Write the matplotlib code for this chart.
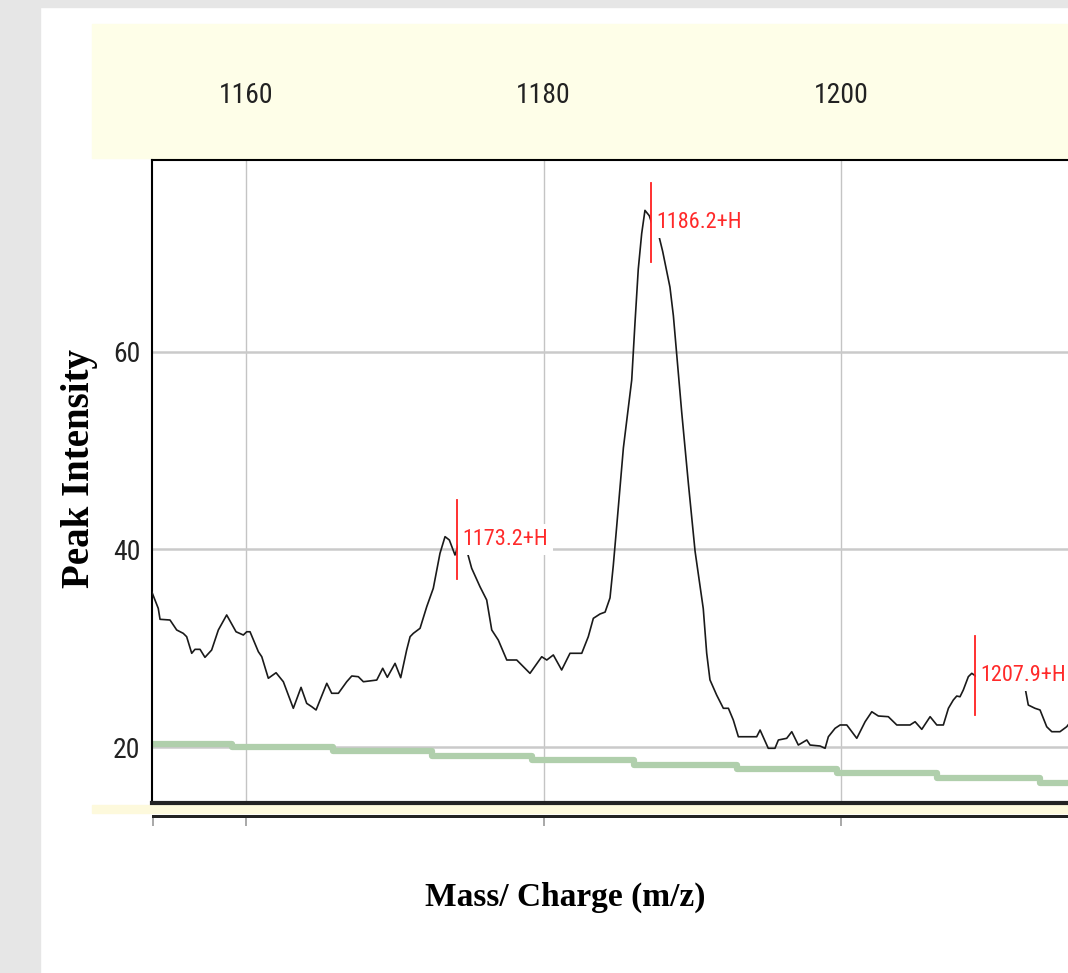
import matplotlib.pyplot as plt
from matplotlib.patches import Rectangle

# spectrum trace (m/z, intensity)
mz = [1153.66, 1154.10, 1154.22, 1154.89, 1155.34, 1155.78, 1156.01, 1156.35, 1156.57, 1156.91,
      1157.24, 1157.69, 1158.14, 1158.70, 1159.33, 1159.82, 1160.05, 1160.27, 1160.83, 1161.06,
      1161.50, 1162.02, 1162.51, 1163.18, 1163.70, 1164.08, 1164.42, 1164.71, 1165.43, 1165.76,
      1166.21, 1166.77, 1167.11, 1167.55, 1167.89, 1168.79, 1169.19, 1169.50, 1170.02, 1170.40,
      1170.80, 1171.03, 1171.25, 1171.70, 1172.15, 1172.59, 1173.04, 1173.38, 1173.67, 1174.05,
      1174.39, 1174.79, 1175.17, 1175.73, 1176.18, 1176.52, 1176.96, 1177.53, 1178.20, 1179.09,
      1179.88, 1180.22, 1180.66, 1181.22, 1181.78, 1182.57, 1183.01, 1183.35, 1183.80, 1184.14,
      1184.47, 1184.69, 1184.92, 1185.37, 1185.93, 1186.15, 1186.37, 1186.60, 1186.82, 1187.11,
      1187.27, 1187.50, 1187.75, 1188.01, 1188.50, 1188.73, 1188.96, 1189.29, 1189.74, 1190.19,
      1190.74, 1190.97, 1191.19, 1191.64, 1192.09, 1192.43, 1192.76, 1193.10, 1194.33, 1194.56,
      1195.11, 1195.56, 1195.79, 1196.35, 1196.69, 1197.13, 1197.70, 1197.92, 1198.59, 1198.93,
      1199.15, 1199.60, 1199.94, 1200.39, 1201.06, 1201.62, 1202.07, 1202.51, 1203.18, 1203.75,
      1204.64, 1204.98, 1205.43, 1205.99, 1206.44, 1206.88, 1207.22, 1207.55, 1207.78, 1208.00,
      1208.22, 1208.56, 1208.79, 1209.12, 1209.46, 1210.60, 1211.80, 1212.35, 1212.59, 1213.04,
      1213.38, 1213.83, 1214.17, 1214.72, 1215.17, 1215.30]
intensity = [35.73, 34.04, 32.93, 32.86, 31.85, 31.51, 31.17, 29.49, 29.89, 29.89,
             29.08, 29.82, 31.85, 33.37, 31.67, 31.34, 31.67, 31.67, 29.65, 29.14,
             26.96, 27.52, 26.61, 23.92, 26.04, 24.42, 24.08, 23.75, 26.45, 25.44,
             25.44, 26.61, 27.19, 27.12, 26.61, 26.78, 27.97, 27.06, 28.47, 27.02,
             29.82, 31.17, 31.51, 32.02, 34.21, 36.07, 39.61, 41.30, 40.96, 39.44,
             40.96, 40.20, 38.10, 36.23, 34.89, 31.85, 30.83, 28.81, 28.81, 27.46,
             29.14, 28.81, 29.32, 27.80, 29.49, 29.49, 31.17, 33.03, 33.47, 33.66,
             35.10, 38.36, 42.34, 50.29, 57.16, 62.95, 68.38, 71.99, 74.34, 73.80,
             73.07, 73.07, 71.80, 70.19, 66.57, 63.68, 59.70, 53.91, 46.67, 39.81,
             34.01, 29.50, 26.80, 25.26, 23.92, 23.92, 22.73, 21.04, 21.04, 21.72,
             19.87, 19.87, 20.71, 20.88, 21.55, 20.20, 20.71, 20.20, 20.10, 19.87,
             21.04, 21.89, 22.23, 22.23, 20.88, 22.56, 23.57, 23.14, 23.07, 22.23,
             22.23, 22.56, 21.79, 23.07, 22.23, 22.23, 23.92, 24.76, 25.16, 25.09,
             25.77, 27.12, 27.46, 27.12, 27.12, 26.90, 26.60, 26.20, 24.25, 23.92,
             23.75, 22.05, 21.55, 21.55, 22.05, 22.30]

# green noise baseline (step start positions and levels)
base_mz = [1153.68, 1159.06, 1165.85, 1172.50, 1179.23, 1186.09, 1193.01, 1199.73, 1206.46, 1213.38, 1215.30]
base_val = [20.3, 20.0, 19.55, 19.1, 18.65, 18.2, 17.8, 17.4, 16.9, 16.4, 16.4]

# labelled peaks
peak_labels = ['1173.2+H', '1186.2+H', '1207.9+H']
peak_mz = [1174.2, 1187.2, 1209.0]
peak_int = [41.0, 73.1, 27.2]

xticks = [1160, 1180, 1200]
yticks = [20, 40, 60]

W, H = 1068, 973
fig = plt.figure(figsize=(W / 100, H / 100), dpi=100)
fig.patch.set_facecolor('white')

# page background pieces
fig.add_artist(Rectangle((0, 0), 40 / W, 1, transform=fig.transFigure, color='#e6e6e6', zorder=0))
fig.add_artist(Rectangle((0, 1 - 7 / H), 1, 7 / H, transform=fig.transFigure, color='#e6e6e6', zorder=0))
fig.add_artist(Rectangle((92 / W, 1 - 158 / H), (W - 92) / W, 134 / H, transform=fig.transFigure,
                         color='#fefee8', zorder=0))
fig.add_artist(Rectangle((92 / W, 1 - 813 / H), (W - 92) / W, 8 / H, transform=fig.transFigure,
                         color='#fdf9dc', zorder=0))

narrow = ['Roboto Condensed', 'Liberation Sans Narrow', 'Liberation Sans', 'DejaVu Sans']
serif = ['Liberation Serif', 'DejaVu Serif']

ax = fig.add_axes([152 / W, 1 - 803 / H, (W - 152) / W, 643 / H])
ax.set_xlim(1153.68, 1215.26)
ax.set_ylim(14.33, 79.44)

ax.plot(mz, intensity, color='#1a1a1a', lw=1.2, zorder=3)
ax.step(base_mz, base_val, where='post', color='#b0cfac', lw=4.5, zorder=2)

for lab, m, v in zip(peak_labels, peak_mz, peak_int):
    ax.annotate(lab, xy=(m, v), xytext=(4, 0), textcoords='offset points',
                va='center', ha='left', color='#ff2a2a', fontsize=16, family=narrow,
                bbox=dict(fc='white', ec='none', pad=3.5), zorder=5)
    ax.plot([m, m], [v - 4, v + 4], color='#ff2020', lw=1.3, zorder=6)

ax.set_xticks(xticks)
ax.set_yticks(yticks)
ax.grid(True, axis='y', color='#cacaca', lw=1.8)
ax.grid(True, axis='x', color='#c4c4c4', lw=1.0)
ax.set_axisbelow(True)
ax.tick_params(axis='x', bottom=False, top=False, labelbottom=False, labeltop=True, pad=33)
ax.tick_params(axis='y', left=False, pad=5)
for t in ax.get_xticklabels() + ax.get_yticklabels():
    t.set_family(narrow)
    t.set_fontsize(20)
    t.set_color('#222222')

ax.spines['right'].set_visible(False)
ax.spines['top'].set_linewidth(1.5)
ax.spines['left'].set_linewidth(1.5)
ax.spines['bottom'].set_linewidth(3)
ax.spines['bottom'].set_color('#222222')

# lower rule with tick marks
axb = fig.add_axes([152 / W, 1 - 818 / H, (W - 152) / W, 3 / H])
axb.set_xlim(ax.get_xlim())
axb.set_facecolor('#222222')
for s in axb.spines.values():
    s.set_visible(False)
axb.set_yticks([])
axb.set_xticks([1153.75] + xticks)
axb.tick_params(axis='x', direction='out', length=6, width=1.2, colors='#999999', labelbottom=False)

fig.text(80 / W, 1 - 468 / H, 'Peak Intensity', rotation=90, ha='center', va='center',
         fontsize=28, fontweight='bold', family=serif)
fig.text(565 / W, 1 - 897 / H, 'Mass/ Charge (m/z)', ha='center', va='center',
         fontsize=24, fontweight='bold', family=serif)

fig.savefig('out.png', dpi=100)
